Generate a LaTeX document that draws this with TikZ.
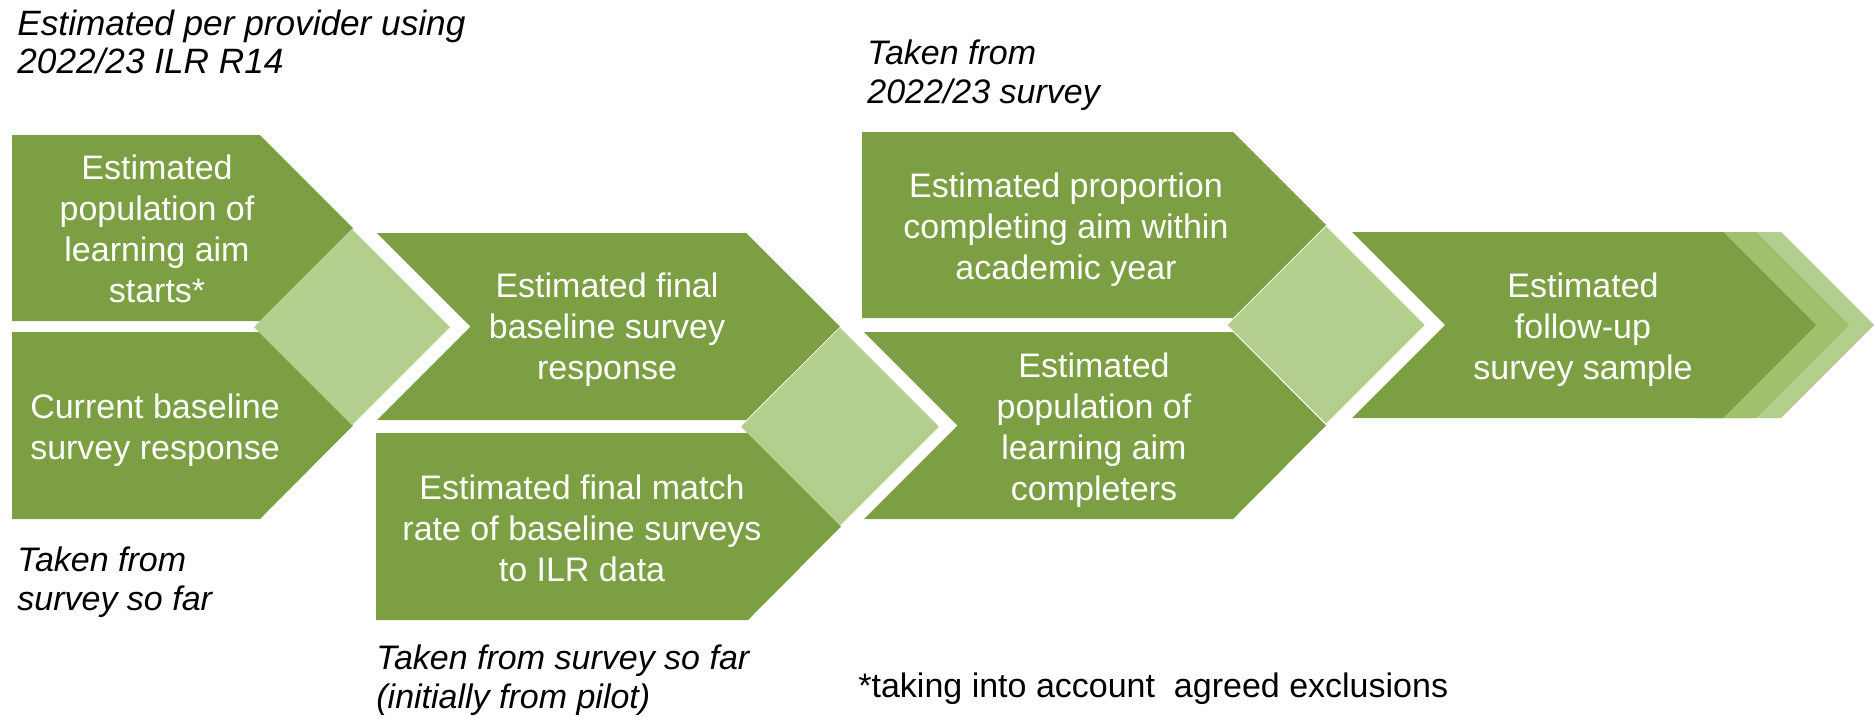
\documentclass[tikz,border=0pt]{standalone}
\usepackage{fontspec}
\setmainfont{Liberation Sans}
\definecolor{dkgreen}{HTML}{7C9F44}
\definecolor{mdgreen}{HTML}{A0C06C}
\definecolor{ltgreen}{HTML}{B4CE8D}
\tikzset{
  darkshape/.style={fill=dkgreen, draw=none},
  midshape/.style={fill=mdgreen, draw=none},
  lightshape/.style={fill=ltgreen, draw=none},
  boxtext/.style={text=white, align=center, inner sep=0pt, font=\fontsize{17}{20.5}\selectfont},
  note/.style={align=left, inner sep=0pt, anchor=north west, font=\fontsize{17}{19.5}\selectfont\itshape},
}
\begin{document}
\begin{tikzpicture}[x=0.5pt,y=-0.5pt]
\useasboundingbox (0,0) rectangle (1874,720);
% stage 1
\fill[darkshape] (12,135) -- (260,135) -- (353,228) -- (260,321) -- (12,321) -- cycle;
\fill[darkshape] (12,332) -- (260,332) -- (353,425.5) -- (260,519) -- (12,519) -- cycle;
\fill[lightshape] (254,327) -- (352,229) -- (450,327) -- (352,425) -- cycle;
% stage 2
\fill[darkshape] (377,233) -- (746,233) -- (840,326.5) -- (746,420) -- (377,420) -- (470.5,326.5) -- cycle;
\fill[darkshape] (376,433) -- (748,433) -- (841,526.5) -- (748,620) -- (376,620) -- cycle;
\fill[lightshape] (741,426.5) -- (840,327.5) -- (939,426.5) -- (840,525.5) -- cycle;
% stage 3
\fill[darkshape] (862,132) -- (1233,132) -- (1326,225) -- (1233,318) -- (862,318) -- cycle;
\fill[darkshape] (864,332) -- (1233,332) -- (1326,425.5) -- (1233,519) -- (864,519) -- (957.5,425.5) -- cycle;
\fill[lightshape] (1227.5,325) -- (1326,226.5) -- (1424.5,325) -- (1326,423.5) -- cycle;
% stage 4
\fill[lightshape] (1700,232) -- (1781,232) -- (1874,325) -- (1781,418) -- (1700,418) -- cycle;
\fill[midshape] (1700,232) -- (1756,232) -- (1849,325) -- (1756,418) -- (1700,418) -- cycle;
\fill[darkshape] (1352,232) -- (1723,232) -- (1816,325) -- (1723,418) -- (1352,418) -- (1445,325) -- cycle;
% box texts
\node[boxtext] (t1) at (157,228.5) {Estimated\\population of\\learning aim\\starts*};
\node[boxtext] (t2) at (155,430) {Current baseline\\survey response};
\node[boxtext] (t3) at (607,329.5) {Estimated final\\baseline survey\\response};
\node[boxtext] (t4) at (582,528) {Estimated final match\\rate of baseline surveys\\to ILR data};
\node[boxtext] (t5) at (1066,229.5) {Estimated proportion\\completing aim within\\academic year};
\node[boxtext] (t6) at (1094,430) {Estimated\\population of\\learning aim\\completers};
\node[boxtext] (t7) at (1583,329.5) {Estimated\\follow-up\\survey sample};
% notes
\node[note, font=\fontsize{17.6}{19}\selectfont\itshape] (n1) at (17,10) {Estimated per provider using\\2022/23 ILR R14};
\node[note] (n2) at (867,39) {Taken from\\2022/23 survey};
\node[note] (n3) at (17,546) {Taken from\\survey so far};
\node[note] (n4) at (376,644) {Taken from survey so far\\(initially from pilot)};
\node[inner sep=0pt, anchor=base west, font=\fontsize{17}{19.5}\selectfont] (n5) at (858,697) {*taking into account\ \ agreed exclusions};
\end{tikzpicture}
\end{document}
